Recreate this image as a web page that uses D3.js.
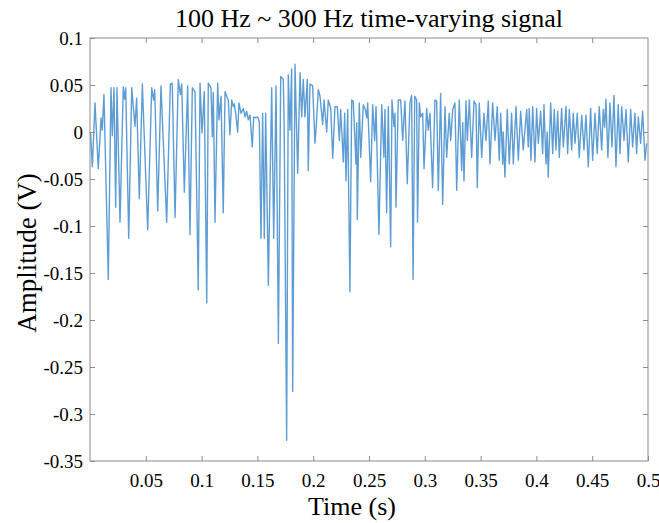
<!DOCTYPE html>
<html>
<head>
<meta charset="utf-8">
<script src="https://cdn.jsdelivr.net/npm/d3@7"></script>
<style>
  body { margin: 0; background: #fff; }
  svg text { font-family: "Liberation Serif", "Times New Roman", serif; fill: #000; }
</style>
</head>
<body>
<div id="chart"></div>
<script>
// signal: [time in ms, amplitude in V], peaks and dips
const seg1 = [
    [0.5, 0.000], [2.1, -0.037], [4.5, 0.031], [7.4, -0.039], [9.9, 0.015], [11.0, 0.002],
    [12.5, 0.040], [16.4, -0.157], [18.8, 0.047], [20.0, -0.004], [21.5, 0.047], [23.0, -0.080],
    [24.2, 0.047], [26.9, -0.096], [29.8, 0.048], [31.0, 0.035], [32.0, 0.047], [34.7, -0.113],
    [37.4, 0.047], [40.3, 0.006], [41.8, 0.036], [44.2, -0.071], [46.9, 0.051], [51.7, -0.104],
    [55.3, 0.047], [57.0, 0.034], [58.0, 0.045], [60.7, -0.084], [63.6, 0.049], [68.7, -0.096],
    [72.0, 0.051], [73.7, 0.052], [76.2, -0.091], [79.1, 0.056], [81.0, 0.040], [82.2, 0.051],
    [84.5, -0.064], [87.5, 0.049], [89.6, -0.109], [91.7, 0.047], [94.1, 0.043], [97.0, -0.168],
    [98.6, 0.052], [100.4, -0.001]
];
const seg2 = [
    [102.4, 0.043], [104.6, -0.182], [106.0, 0.052], [108.4, 0.047], [109.6, -0.005], [110.5, 0.042],
    [112.0, -0.096], [114.4, 0.052], [115.6, 0.013], [117.4, 0.038], [119.4, -0.086], [121.0, 0.043],
    [122.5, 0.038], [123.9, 0.034], [125.4, -0.003], [127.0, 0.034], [128.4, 0.027], [129.3, 0.030],
    [130.5, 0.020], [132.3, 0.000], [133.5, 0.031], [135.3, 0.020], [137.4, 0.025], [138.9, 0.016],
    [140.4, 0.022], [141.8, 0.013], [143.4, 0.018], [145.4, -0.016], [146.7, 0.016], [148.5, 0.015],
    [150.3, 0.016], [151.7, 0.011], [153.2, -0.113], [154.7, 0.020], [156.2, -0.113], [157.4, 0.020],
    [158.3, -0.045], [159.8, -0.163], [162.8, 0.047], [164.6, -0.113], [166.7, 0.049], [168.8, -0.225],
    [170.9, 0.059], [173.2, 0.056], [174.0, 0.005], [176.2, -0.328], [177.7, 0.061], [179.2, 0.002],
    [180.7, 0.067], [181.6, -0.276], [183.7, 0.072], [186.1, -0.044], [188.2, 0.063], [189.7, 0.016],
    [191.1, 0.056], [192.6, 0.016], [194.7, 0.056], [195.6, -0.041], [197.1, 0.051], [199.5, 0.049]
];
const seg3 = [
    [201.6, -0.012], [202.5, 0.002], [204.6, 0.045], [206.1, 0.038], [208.5, 0.008], [209.7, 0.034],
    [212.1, 0.000], [213.5, 0.034], [215.7, 0.025], [217.5, -0.028], [219.5, 0.027], [221.6, 0.027],
    [223.4, -0.009], [224.6, 0.024], [227.0, -0.032], [228.2, 0.020], [229.4, -0.052], [230.9, 0.024],
    [232.9, -0.170], [234.5, 0.034], [235.9, 0.033], [238.3, -0.034], [239.0, 0.010], [239.5, -0.093],
    [241.3, 0.031], [242.6, -0.027], [244.9, 0.029], [246.7, 0.024], [248.0, 0.015], [248.8, 0.031],
    [251.5, -0.053], [253.3, 0.029], [255.1, -0.009], [256.3, 0.027], [258.9, -0.109], [261.4, 0.029],
    [263.4, -0.027], [264.3, 0.024], [265.8, -0.086], [267.3, 0.027], [269.4, -0.122], [270.6, 0.034],
    [272.4, 0.006], [273.3, 0.020], [274.2, -0.080], [276.2, 0.034], [278.4, 0.034], [280.2, -0.009],
    [282.2, 0.033], [284.3, -0.055], [286.7, 0.031], [288.2, 0.039], [289.5, -0.157], [291.0, 0.038],
    [292.7, 0.034], [293.5, -0.096], [295.1, 0.031], [296.3, 0.016], [298.1, 0.020], [299.3, -0.039]
];
const seg4 = [
    [301.7, 0.025], [303.1, 0.002], [304.6, 0.020], [307.0, -0.059], [309.1, 0.034], [310.6, 0.033],
    [312.1, -0.062], [314.2, 0.041], [316.0, -0.077], [318.1, 0.027], [319.6, -0.027], [321.9, 0.020],
    [323.2, -0.009], [325.0, 0.024], [327.0, 0.031], [328.6, -0.062], [330.9, 0.034], [333.0, -0.041],
    [334.0, 0.010], [335.1, -0.052], [336.9, 0.033], [338.1, -0.009], [339.9, 0.034], [342.0, -0.027],
    [344.1, 0.033], [345.9, 0.029], [347.0, -0.059], [348.8, 0.031], [351.0, -0.027], [353.0, 0.020],
    [354.8, -0.009], [356.9, 0.033], [358.4, -0.034], [360.8, 0.031], [362.9, -0.009], [364.9, 0.027],
    [366.7, -0.030], [368.0, 0.020], [369.8, -0.034], [370.3, 0.000], [371.8, -0.048], [373.9, 0.024],
    [375.7, -0.034], [377.8, 0.020], [379.3, -0.034], [381.7, 0.027], [383.8, -0.030], [385.9, 0.022],
    [388.2, -0.019], [391.3, 0.024], [392.7, -0.016], [393.6, 0.025], [395.1, -0.030], [396.7, 0.027],
    [398.7, -0.032]
];
const seg5 = [
    [400.2, 0.025], [401.7, -0.012], [403.8, 0.022], [405.6, -0.023], [406.8, 0.029], [408.6, -0.034],
    [409.7, 0.000], [410.6, -0.048], [412.8, 0.031], [414.6, -0.023], [416.0, 0.024], [417.5, -0.019],
    [419.1, 0.022], [420.5, -0.027], [422.6, 0.025], [424.1, -0.016], [426.5, 0.027], [428.0, -0.023],
    [429.5, 0.024], [431.6, -0.019], [433.0, 0.020], [434.6, -0.012], [436.6, 0.020], [438.4, -0.027],
    [440.6, 0.018], [442.6, -0.019], [444.4, 0.018], [446.5, -0.037], [448.6, 0.025], [450.4, -0.030],
    [452.5, 0.020], [454.5, -0.023], [456.3, 0.027], [458.5, -0.019], [459.9, 0.024], [461.2, 0.005],
    [462.3, 0.035], [464.1, -0.027], [465.9, 0.031], [467.7, -0.016], [469.5, 0.039], [471.3, -0.037],
    [473.3, 0.029], [474.9, -0.023], [476.4, 0.027], [478.5, -0.009], [480.3, 0.024], [482.3, -0.032],
    [484.5, 0.024], [486.2, -0.016], [488.3, 0.020], [489.8, -0.023], [491.3, 0.016], [493.4, -0.012],
    [495.2, 0.022], [497.3, -0.030], [498.8, -0.012]
];

const xTicks = [0.05, 0.1, 0.15, 0.2, 0.25, 0.3, 0.35, 0.4, 0.45, 0.5];
const yTicks = [0.1, 0.05, 0, -0.05, -0.1, -0.15, -0.2, -0.25, -0.3, -0.35];

const width = 659;
const height = 523;
const margin = { top: 38, right: 11, bottom: 62, left: 90 };
const plotW = width - margin.left - margin.right;
const plotH = height - margin.top - margin.bottom;

const signal = [...seg1, ...seg2, ...seg3, ...seg4, ...seg5]
    .map(([ms, v]) => ({ t: ms / 1000, v }));

const x = d3.scaleLinear().domain([0, 0.5]).range([0, plotW]);
const y = d3.scaleLinear().domain([-0.35, 0.1]).range([plotH, 0]);

const svg = d3.select('#chart')
    .append('svg')
    .attr('width', width)
    .attr('height', height);

const g = svg.append('g')
    .attr('transform', `translate(${margin.left},${margin.top})`);

// signal trace
const line = d3.line()
    .x(d => x(d.t))
    .y(d => y(d.v));

g.append('path')
    .datum(signal)
    .attr('fill', 'none')
    .attr('stroke', '#1f77c4')
    .attr('stroke-opacity', 0.72)
    .attr('stroke-width', 1.4)
    .attr('stroke-linejoin', 'round')
    .attr('d', line);

// box with inward ticks on every side (matlab look)
const axisColor = '#8c8c8c';
const tickLen = 5;
const plain = d => String(d);   // keeps the ascii hyphen of the original

const styleAxis = sel => {
    sel.select('.domain').remove();
    sel.selectAll('.tick line').attr('stroke', axisColor);
    sel.selectAll('.tick text')
        .style('font-size', '19px')
        .attr('fill', '#000');
};

g.append('g')
    .attr('transform', `translate(0,${plotH})`)
    .call(d3.axisBottom(x).tickValues(xTicks).tickSizeInner(-tickLen).tickPadding(13).tickFormat(plain))
    .call(styleAxis);

g.append('g')
    .call(d3.axisTop(x).tickValues(xTicks.slice(0, -1)).tickSizeInner(-tickLen).tickFormat(''))
    .call(styleAxis);

g.append('g')
    .call(d3.axisLeft(y).tickValues(yTicks).tickSizeInner(-tickLen).tickPadding(7).tickFormat(plain))
    .call(styleAxis);

g.append('g')
    .attr('transform', `translate(${plotW},0)`)
    .call(d3.axisRight(y).tickValues(yTicks.slice(1, -1)).tickSizeInner(-tickLen).tickFormat(''))
    .call(styleAxis);

g.append('rect')
    .attr('width', plotW)
    .attr('height', plotH)
    .attr('fill', 'none')
    .attr('stroke', axisColor)
    .attr('stroke-width', 1);

// title and axis labels
svg.append('text')
    .attr('x', margin.left + plotW / 2)
    .attr('y', 27)
    .attr('text-anchor', 'middle')
    .style('font-size', '26px')
    .text('100 Hz ~ 300 Hz time-varying signal');

svg.append('text')
    .attr('x', 352)
    .attr('y', 515)
    .attr('text-anchor', 'middle')
    .style('font-size', '26px')
    .text('Time (s)');

svg.append('text')
    .attr('transform', 'translate(36,253) rotate(-90)')
    .attr('text-anchor', 'middle')
    .style('font-size', '27px')
    .text('Amplitude (V)');
</script>
</body>
</html>
